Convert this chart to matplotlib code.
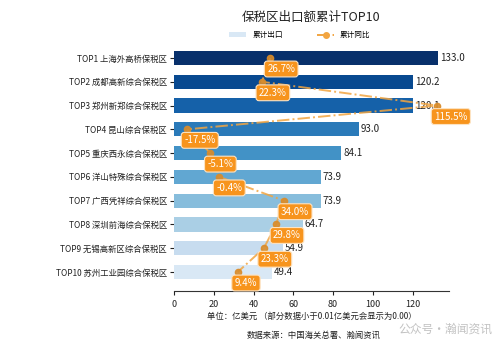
import matplotlib
matplotlib.use("Agg")
import matplotlib.pyplot as plt
import numpy as np
from matplotlib.patches import Patch
from matplotlib.lines import Line2D

plt.rcParams['font.family'] = ['Noto Sans CJK SC', 'DejaVu Sans']
plt.rcParams['axes.unicode_minus'] = False

zones = ["TOP1 上海外高桥保税区", "TOP2 成都高新综合保税区", "TOP3 郑州新郑综合保税区",
         "TOP4 昆山综合保税区", "TOP5 重庆西永综合保税区", "TOP6 洋山特殊综合保税区",
         "TOP7 广西凭祥综合保税区", "TOP8 深圳前海综合保税区", "TOP9 无锡高新区综合保税区",
         "TOP10 苏州工业园综合保税区"]
exports = [133.0, 120.2, 120.1, 93.0, 84.1, 73.9, 73.9, 64.7, 54.9, 49.4]
growth = [26.7, 22.3, 115.5, -17.5, -5.1, -0.4, 34.0, 29.8, 23.3, 9.4]
x_ticks = [0, 20, 40, 60, 80, 100, 120]

fig = plt.figure(figsize=(5.0, 3.42), dpi=100)
ax = fig.add_axes([0.348, 0.149, 0.55, 0.737])

pos = np.arange(len(zones))
colors = plt.cm.Blues(np.linspace(1.0, 0.15, len(zones)))
ax.barh(pos, exports, height=0.6, color=colors, edgecolor='none', zorder=2)
for p, v in zip(pos, exports):
    ax.text(v + 1.0, p, f"{v:.1f}", va='center', ha='left', fontsize=7, color='#222222')

ax.set_xlim(0, max(exports) * 1.04)
ax.set_ylim(len(zones) - 0.2, -0.8)
ax.set_yticks(pos)
ax.set_yticklabels(zones, fontsize=6)
ax.set_xticks(x_ticks)
ax.tick_params(axis='x', labelsize=6.5, length=3, width=0.8, colors='#222222')
ax.tick_params(axis='y', length=3, width=0.8, pad=2, colors='#222222')
for s in ['top', 'right', 'left']:
    ax.spines[s].set_visible(False)
ax.spines['bottom'].set_color('#333333')
ax.spines['bottom'].set_linewidth(0.8)

# growth rate on a secondary horizontal scale
ax2 = ax.twiny()
ax2.set_xlim(min(growth) - 7.0, max(growth) + 6.3)
ax2.plot(growth, pos, linestyle='-.', color='#f2a541', alpha=0.85, lw=1.4, zorder=3)
ax2.plot(growth, pos, linestyle='none', marker='o', ms=4.5,
         mfc='#d98c2b', mec='#d98c2b', alpha=0.9, zorder=4)
for g, p in zip(growth, pos):
    ax2.annotate(f"{g:.1f}%", xy=(g, p), xytext=(-3, -11), textcoords='offset pixels',
                 ha='left', va='center', fontsize=7, color='white', zorder=5,
                 bbox=dict(boxstyle='round,pad=0.3', fc='#f7941d', ec='#fde3c2', lw=0.8))
ax2.set_xticks([])
for s in ['top', 'right', 'left', 'bottom']:
    ax2.spines[s].set_visible(False)

fig.text(0.622, 0.95, "保税区出口额累计TOP10", ha='center', va='center', fontsize=9, color='#222222')

handles = [Patch(facecolor=colors[-1], edgecolor='none'),
           Line2D([0], [0], color='#f2a541', linestyle='-.', lw=1.4, marker='o', ms=4,
                  mfc='#f2a541', mec='#f2a541')]
fig.legend(handles, ["累计出口", "累计同比"], loc='center', bbox_to_anchor=(0.6, 0.897),
           ncol=2, frameon=False, fontsize=5.5, handlelength=2.2, handleheight=0.6,
           columnspacing=4.5, handletextpad=0.8)

fig.text(0.623, 0.076, "单位：亿美元 （部分数据小于0.01亿美元会显示为0.00）",
         ha='center', va='center', fontsize=6, color='#222222')
fig.text(0.628, 0.018, "数据来源：中国海关总署、瀚闻资讯",
         ha='center', va='center', fontsize=6, color='#222222')

fig.text(0.89, 0.038, "公众号・瀚闻资讯", ha='center', va='center', fontsize=8.5,
         color='#9a9a9a', alpha=0.6)

fig.savefig("out.png", dpi=100)
